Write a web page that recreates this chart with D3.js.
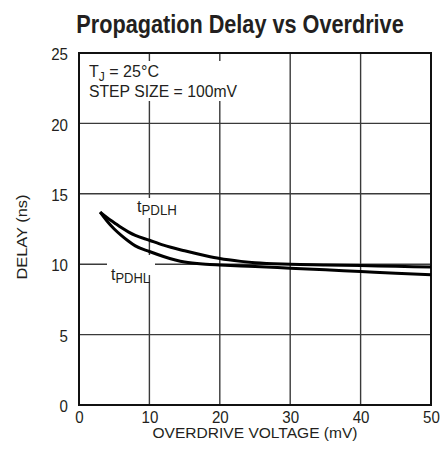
<!DOCTYPE html>
<html><head><meta charset="utf-8">
<script src="https://cdn.jsdelivr.net/npm/d3@7"></script>
<style>body{margin:0;background:#fff}svg{display:block}text{font-family:"Liberation Sans",Arial,sans-serif;fill:#231f20}</style>
</head><body><svg id="c" width="440" height="463"></svg>
<script>
const xTicks = [0,10,20,30,40,50];
const yTicks = [0,5,10,15,20,25];
const overdrive = [3,4,5,6,7,8,10,12,15,18,20,23,25,30,35,40,45,50];
const tPDLH = [13.7,13.3,12.95,12.6,12.3,12.05,11.7,11.35,10.95,10.6,10.4,10.2,10.1,10.0,9.95,9.9,9.85,9.8];
const tPDHL = [13.7,13.05,12.5,12.05,11.65,11.3,10.9,10.55,10.15,10.0,9.95,9.88,9.84,9.72,9.6,9.48,9.36,9.25];

const svg = d3.select("#c");
const L=79,R=431,T=53,B=405;
const x = d3.scaleLinear().domain([0,50]).range([L,R]);
const y = d3.scaleLinear().domain([0,25]).range([B,T]);

svg.append("text").attr("transform","translate(240,33) scale(0.867,1)").attr("text-anchor","middle")
  .attr("font-size",25).attr("font-weight","bold")
  .text("Propagation Delay vs Overdrive");

// grid
const g = svg.append("g");
g.selectAll(".vx").data(xTicks.slice(1,-1)).join("line")
  .attr("x1",d=>x(d)).attr("x2",d=>x(d)).attr("y1",T).attr("y2",B)
  .attr("stroke","#3a3a3a").attr("stroke-width",1.4);
g.selectAll(".hy").data(yTicks.slice(1,-1)).join("line")
  .attr("y1",d=>y(d)).attr("y2",d=>y(d)).attr("x1",L).attr("x2",R)
  .attr("stroke","#3a3a3a").attr("stroke-width",1.4);

// white boxes behind labels
svg.append("rect").attr("x",81).attr("y",61).attr("width",159).attr("height",40).attr("fill","#fff");
svg.append("rect").attr("x",133).attr("y",198).attr("width",50).attr("height",20).attr("fill","#fff");
svg.append("rect").attr("x",107).attr("y",255).attr("width",48).attr("height",20).attr("fill","#fff");

// axes labels via d3 axes
const xAxis = svg.append("g").attr("transform",`translate(0,${B})`)
  .call(d3.axisBottom(x).tickValues(xTicks).tickSize(0).tickPadding(6));
const yAxis = svg.append("g").attr("transform",`translate(${L},0)`)
  .call(d3.axisLeft(y).tickValues(yTicks).tickSize(0).tickPadding(11));
[xAxis,yAxis].forEach(a=>{a.select(".domain").remove();
  a.selectAll("text").attr("font-size",16.5).style("font-family",'"Liberation Sans",sans-serif').attr("fill","#231f20")
   .attr("textLength",d=>String(d).length*8.4).attr("lengthAdjust","spacingAndGlyphs");});
yAxis.selectAll("text").attr("dy","0.4em");

// frame
svg.append("rect").attr("x",L).attr("y",T).attr("width",R-L).attr("height",B-T)
  .attr("fill","none").attr("stroke","#111").attr("stroke-width",2);

// curves
const line = d3.line().x(d=>x(d[0])).y(d=>y(d[1])).curve(d3.curveMonotoneX);
[tPDLH,tPDHL].forEach(s=>{
  svg.append("path").datum(overdrive.map((v,i)=>[v,s[i]])).attr("d",line)
    .attr("fill","none").attr("stroke","#000").attr("stroke-width",3);
});

// annotations
const a1 = svg.append("text").attr("x",89).attr("y",77).attr("font-size",16)
  .attr("textLength",70).attr("lengthAdjust","spacingAndGlyphs");
a1.append("tspan").text("T");
a1.append("tspan").attr("font-size",12).attr("dy",4).text("J");
a1.append("tspan").attr("dy",-4).text(" = 25°C");
svg.append("text").attr("x",89).attr("y",97).attr("font-size",16)
  .attr("textLength",148).attr("lengthAdjust","spacingAndGlyphs").text("STEP SIZE = 100mV");

function sublabel(px,py,main,sub,w){
  const t = svg.append("text").attr("x",px).attr("y",py).attr("font-size",17)
    .attr("textLength",w).attr("lengthAdjust","spacingAndGlyphs");
  t.append("tspan").text(main);
  t.append("tspan").attr("font-size",14).attr("dy",3).text(sub);
}
sublabel(137,212,"t","PDLH",40);
sublabel(111,280,"t","PDHL",39);

svg.append("text").attr("x",(L+R)/2).attr("y",438).attr("text-anchor","middle")
  .attr("font-size",15.5).attr("textLength",205).attr("lengthAdjust","spacingAndGlyphs")
  .text("OVERDRIVE VOLTAGE (mV)");
svg.append("text").attr("transform","translate(27,237) rotate(-90)").attr("text-anchor","middle")
  .attr("font-size",15.5).attr("textLength",85).attr("lengthAdjust","spacingAndGlyphs")
  .text("DELAY (ns)");
</script></body></html>
